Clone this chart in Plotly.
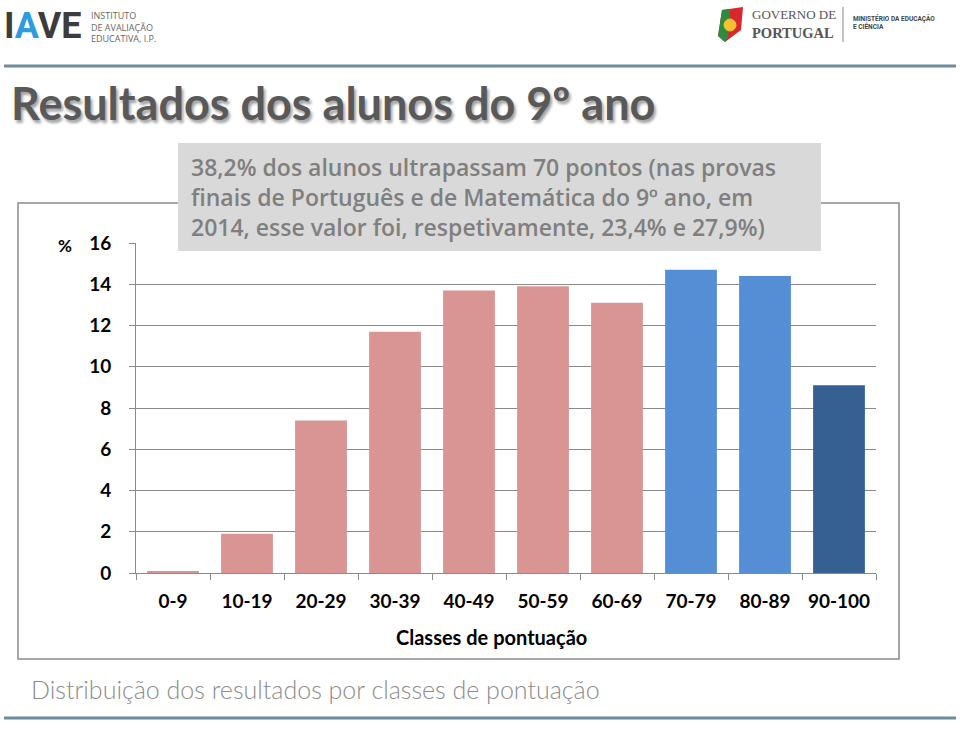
import plotly.graph_objects as go

categories = ["0-9", "10-19", "20-29", "30-39", "40-49", "50-59", "60-69", "70-79", "80-89", "90-100"]
values = [0.05, 1.9, 7.4, 11.7, 13.7, 13.9, 13.1, 14.7, 14.4, 9.1]
bar_colors = ["#D99594"] * 7 + ["#558ED5", "#558ED5", "#366092"]
y_ticks = [0, 2, 4, 6, 8, 10, 12, 14, 16]

W, H = 960, 729
L, R, T, B = 136, 876, 243, 573

def px(x):
    return (x - L) / (R - L)

def py(y):
    return (B - y) / (B - T)

fig = go.Figure()
fig.add_trace(go.Bar(
    x=categories, y=values, marker_color=bar_colors, marker_line_width=0,
    width=0.7, hoverinfo="x+y",
))

FONT = "Lato"
annotations = []
shapes = []

# header logos (text)
annotations.append(dict(x=px(3), y=py(26), xref="paper", yref="paper", xanchor="left", yanchor="middle",
                        text="<b>I<span style='color:#2E9BE0'>A</span>VE</b>", showarrow=False, borderpad=0,
                        font=dict(family="Roboto", size=36, color="#3C3C3C")))
annotations.append(dict(x=px(90), y=py(27), xref="paper", yref="paper", xanchor="left", yanchor="middle",
                        text="INSTITUTO<br>DE AVALIAÇÃO<br>EDUCATIVA, I.P.", showarrow=False, align="left", borderpad=0,
                        font=dict(family="Open Sans", size=9, color="#666666")))
annotations.append(dict(x=px(751), y=py(24), xref="paper", yref="paper", xanchor="left", yanchor="middle",
                        text="<span style='font-size:13px'>GOVERNO DE</span><br><b>PORTUGAL</b>",
                        showarrow=False, align="left", borderpad=0,
                        font=dict(family="Liberation Serif", size=14.5, color="#555555")))
annotations.append(dict(x=px(852), y=py(23), xref="paper", yref="paper", xanchor="left", yanchor="middle",
                        text="<b>MINISTÉRIO DA EDUCAÇÃO<br>E CIÊNCIA</b>", showarrow=False, align="left", borderpad=0,
                        font=dict(family="Roboto", size=6.5, color="#444444")))
shapes.append(dict(type="line", xref="paper", yref="paper", x0=px(843), x1=px(843), y0=py(7), y1=py(42),
                   line=dict(color="#888888", width=1)))
# emblem
shapes.append(dict(type="path", xref="paper", yref="paper",
                   path=f"M {px(722)},{py(10)} L {px(743)},{py(7)} L {px(741)},{py(30)} L {px(725)},{py(42)} L {px(718)},{py(36)} Z",
                   fillcolor="#D9272E", line=dict(width=0)))
shapes.append(dict(type="path", xref="paper", yref="paper",
                   path=f"M {px(722)},{py(10)} L {px(730)},{py(9)} L {px(728)},{py(38)} L {px(725)},{py(42)} L {px(718)},{py(36)} Z",
                   fillcolor="#2E8B3E", line=dict(width=0)))
shapes.append(dict(type="circle", xref="paper", yref="paper", x0=px(724), x1=px(736), y0=py(19), y1=py(31),
                   fillcolor="#F2C230", line=dict(color="#F2C230", width=1)))

# header and footer rules
for yy in (66, 718):
    shapes.append(dict(type="line", xref="paper", yref="paper", x0=px(4), x1=px(956), y0=py(yy), y1=py(yy),
                       line=dict(color="#6F8C9B", width=3)))

# title
annotations.append(dict(x=px(9), y=py(103), xref="paper", yref="paper", xanchor="left", yanchor="middle",
                        text="<b>Resultados dos alunos do 9º ano</b>", showarrow=False,
                        font=dict(family=FONT, size=45, color="#595959", shadow="2px 3px 3px #A0A0A0")))

# chart border
shapes.append(dict(type="rect", xref="paper", yref="paper", x0=px(18), x1=px(899), y0=py(659), y1=py(203),
                   line=dict(color="#8A8A8A", width=1.5), fillcolor="rgba(0,0,0,0)", layer="below"))

# "%" label
annotations.append(dict(x=px(65), y=py(245), xref="paper", yref="paper", xanchor="center", yanchor="middle",
                        text="<b>%</b>", showarrow=False, font=dict(family=FONT, size=17, color="#000000")))

# x axis title
annotations.append(dict(x=px(491), y=py(637), xref="paper", yref="paper", xanchor="center", yanchor="middle",
                        text="<b>Classes de pontuação</b>", showarrow=False, font=dict(family=FONT, size=20, color="#000000")))

# gray callout box
shapes.append(dict(type="rect", xref="paper", yref="paper", x0=px(178), x1=px(821), y0=py(251), y1=py(143),
                   fillcolor="#D9D9D9", line=dict(width=0), layer="above"))
callout = ("38,2% dos alunos ultrapassam 70 pontos (nas provas<br>"
           "finais de Português e de Matemática do 9º ano, em<br>"
           "2014, esse valor foi, respetivamente, 23,4% e 27,9%)")
annotations.append(dict(x=px(189), y=py(197), xref="paper", yref="paper", xanchor="left", yanchor="middle",
                        text=callout, showarrow=False, align="left",
                        font=dict(family="Open Sans", size=23, weight=600, color="#7F7F7F")))

# subtitle
annotations.append(dict(x=px(29), y=py(689), xref="paper", yref="paper", xanchor="left", yanchor="middle",
                        text="Distribuição dos resultados por classes de pontuação", showarrow=False,
                        font=dict(family=FONT, size=25, weight=300, color="#8C8C8C")))

fig.update_layout(
    width=W, height=H,
    margin=dict(l=L, r=W - R, t=T, b=H - B, pad=0),
    paper_bgcolor="white", plot_bgcolor="white",
    showlegend=False, bargap=0.3,
    font=dict(family=FONT),
    annotations=annotations, shapes=shapes,
    xaxis=dict(
        tickmode="array", tickvals=categories,
        ticktext=[f"<b>{c}</b>" for c in categories],
        tickfont=dict(family=FONT, size=19, color="#000000"),
        showline=True, linecolor="#8A8A8A", linewidth=1,
        ticks="outside", ticklen=6, tickcolor="#8A8A8A", tickson="boundaries",
        showgrid=False, zeroline=False, ticklabelstandoff=11,
    ),
    yaxis=dict(
        range=[0, 16], tickvals=y_ticks,
        ticktext=[f"<b>{t}</b>" for t in y_ticks],
        tickfont=dict(family=FONT, size=19, color="#000000"),
        showline=True, linecolor="#8A8A8A", linewidth=1,
        ticks="outside", ticklen=6, tickcolor="#8A8A8A",
        showgrid=True, gridcolor="#8A8A8A", gridwidth=1,
        zeroline=False, ticklabelstandoff=14,
    ),
)

fig.write_html("out.html", config={"displayModeBar": False},
               post_script="document.body.style.margin='0';")
